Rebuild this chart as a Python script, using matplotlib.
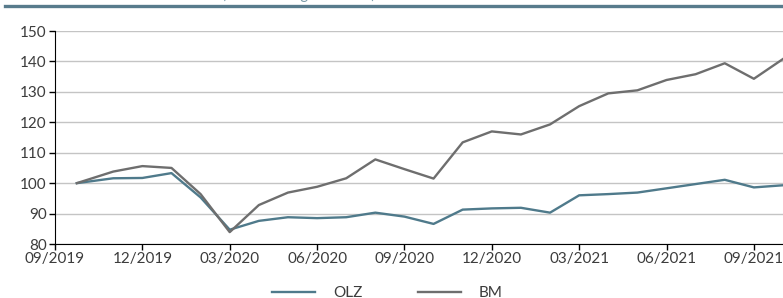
import matplotlib
matplotlib.use("Agg")
import matplotlib.pyplot as plt
from matplotlib.lines import Line2D

plt.rcParams['font.family'] = ['Lato', 'DejaVu Sans']

# months since 09/2019
months = [0.75, 2, 3, 4, 5, 6, 7, 8, 9, 10, 11, 12, 13, 14, 15, 16, 17,
          18, 19, 20, 21, 22, 23, 24, 25]
olz = [100.0, 101.6, 101.7, 103.3, 95.3, 84.7, 87.6, 88.8, 88.5, 88.8, 90.3,
       89.0, 86.6, 91.3, 91.7, 91.9, 90.3, 96.0, 96.4, 96.9, 98.3, 99.7,
       101.1, 98.6, 99.3]
bm = [100.0, 103.8, 105.6, 105.0, 96.4, 83.9, 92.8, 96.9, 98.8, 101.6, 107.8,
      104.6, 101.5, 113.4, 117.0, 116.0, 119.3, 125.3, 129.5, 130.5, 133.9,
      135.8, 139.4, 134.3, 140.8]
tick_pos = [0, 3, 6, 9, 12, 15, 18, 21, 24]
tick_labels = ['09/2019', '12/2019', '03/2020', '06/2020', '09/2020',
               '12/2020', '03/2021', '06/2021', '09/2021']

olz_color = '#4f7a8b'
bm_color = '#6e6e6e'
text_color = '#3c3c3c'

fig = plt.figure(figsize=(7.83, 2.98), dpi=100)
ax = fig.add_axes([55/783, 1 - 244/298, 1 - 55/783, (244 - 31)/298])

ax.plot(months, olz, color=olz_color, lw=1.7, label='OLZ', zorder=3)
ax.plot(months, bm, color=bm_color, lw=1.7, label='BM', zorder=3)

ax.set_xlim(0, 25)
ax.set_ylim(80, 150)
ax.set_yticks(range(80, 151, 10))
ax.set_xticks(tick_pos)
ax.set_xticklabels(tick_labels)
ax.grid(axis='y', color='#c4c4c4', lw=1)
ax.set_axisbelow(True)
for s in ['top', 'right']:
    ax.spines[s].set_visible(False)
ax.tick_params(axis='both', labelsize=11, labelcolor=text_color, color='black',
               length=4, width=1, pad=2)

# header bar and clipped subtitle
fig.add_artist(Line2D([5/783, 1], [1 - 5.5/298, 1 - 5.5/298], color='#587b8c', lw=2.4))
fig.text(222/783, 1 + 1/298, '(Entwicklung indexiert)', fontsize=11,
         color='#7a9aa8', va='baseline', ha='left')

fig.legend(loc='center', bbox_to_anchor=(0.495, 1 - 293/298), ncol=2, frameon=False,
           fontsize=11, handlelength=2.8, handletextpad=1.2, columnspacing=3.6,
           labelcolor=text_color)

fig.savefig('out.png', dpi=100)
